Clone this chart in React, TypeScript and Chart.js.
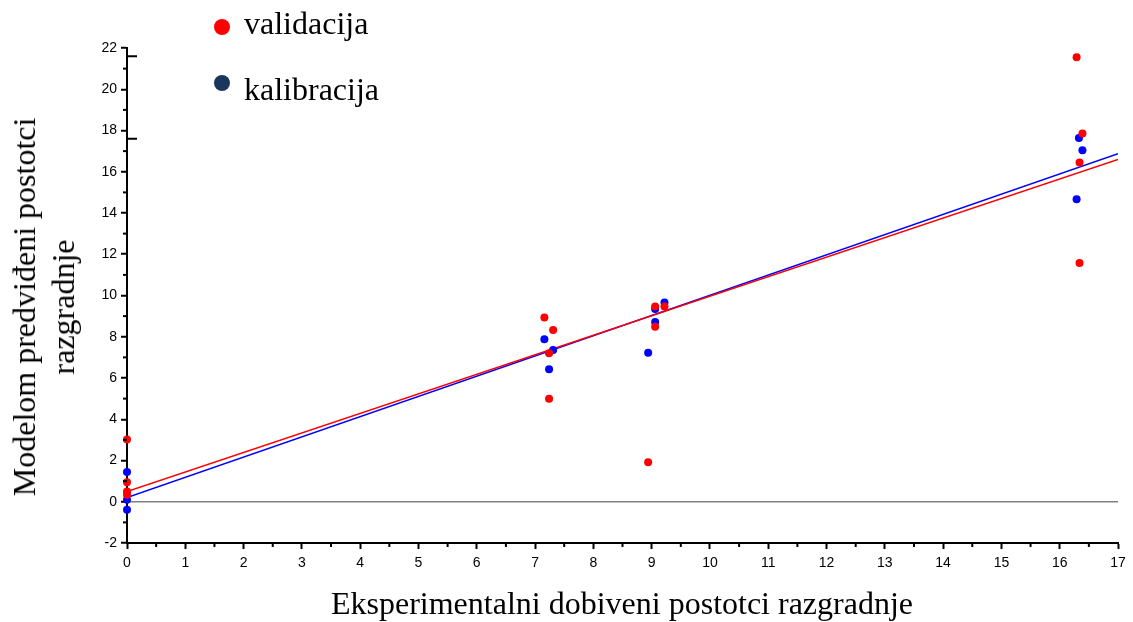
import React, { useEffect, useRef } from "react";
import { Chart, registerables } from "chart.js";

Chart.register(...registerables);

// Validacija (red) points
const valX = [0, 0, 0, 0, 7.16, 7.31, 7.24, 7.24, 9.06, 9.22, 9.06, 8.94, 16.29, 16.39, 16.34, 16.34];
const valY = [3.02, 0.94, 0.5, 0.34, 8.93, 8.33, 7.2, 5.0, 9.47, 9.47, 8.48, 1.91, 21.55, 17.85, 16.45, 11.58];

// Kalibracija (blue) points
const calX = [0, 0, 0, 7.16, 7.31, 7.24, 9.06, 9.22, 9.06, 8.94, 16.33, 16.39, 16.29];
const calY = [1.44, 0.1, -0.39, 7.88, 7.36, 6.42, 9.34, 9.66, 8.72, 7.23, 17.64, 17.04, 14.67];

// Regression lines (endpoints at x = 0 and x = 17)
const lineX = [0, 17];
const valLineY = [0.49, 16.59];
const calLineY = [0.2, 16.88];

// Axis settings
const xMin = 0;
const xMax = 17;
const yMin = -2;
const yMax = 22;
const breakValues = [21.6, 17.6];

const xTitle = "Eksperimentalni dobiveni postotci razgradnje";
const yTitleLines = ["Modelom predviđeni postotci", "razgradnje"];
const legendLabels = ["validacija", "kalibracija"];

const toPts = (xs: number[], ys: number[]) => xs.map((x, i) => ({ x, y: ys[i] }));

const extrasPlugin = {
  id: "extras",
  afterDraw(chart: any) {
    const ctx = chart.ctx;
    const xs = chart.scales.x;
    const ys = chart.scales.y;
    const area = chart.chartArea;
    ctx.save();
    ctx.strokeStyle = "#000";
    ctx.lineWidth = 2;
    // minor y ticks
    for (let v = yMin + 1; v < yMax; v += 2) {
      const py = ys.getPixelForValue(v);
      ctx.beginPath();
      ctx.moveTo(area.left - 4, py);
      ctx.lineTo(area.left, py);
      ctx.stroke();
    }
    // minor x ticks
    for (let v = xMin + 0.5; v < xMax; v += 1) {
      const px = xs.getPixelForValue(v);
      ctx.beginPath();
      ctx.moveTo(px, area.bottom);
      ctx.lineTo(px, area.bottom + 4);
      ctx.stroke();
    }
    // axis break marks
    breakValues.forEach((v) => {
      const py = ys.getPixelForValue(v);
      ctx.beginPath();
      ctx.moveTo(area.left, py);
      ctx.lineTo(area.left + 10, py);
      ctx.stroke();
    });
    ctx.restore();
  },
};

export default function App() {
  const canvasRef = useRef<HTMLCanvasElement | null>(null);

  useEffect(() => {
    if (!canvasRef.current) return;
    const tickFont = { family: "'Liberation Sans', Arial, sans-serif", size: 14 };
    const chart = new Chart(canvasRef.current, {
      type: "scatter",
      data: {
        datasets: [
          {
            label: legendLabels[0],
            data: toPts(valX, valY),
            backgroundColor: "#ff0000",
            borderColor: "#ff0000",
            pointRadius: 4,
            pointBorderWidth: 0,
            order: 0,
            clip: false as any,
          },
          {
            label: legendLabels[1],
            data: toPts(calX, calY),
            backgroundColor: "#0000ff",
            borderColor: "#0000ff",
            pointRadius: 4,
            pointBorderWidth: 0,
            order: 1,
            clip: false as any,
          },
          {
            type: "line",
            label: "val fit",
            data: toPts(lineX, valLineY),
            borderColor: "#ff0000",
            borderWidth: 1.5,
            pointRadius: 0,
            showLine: true,
            fill: false,
            order: 2,
          } as any,
          {
            type: "line",
            label: "cal fit",
            data: toPts(lineX, calLineY),
            borderColor: "#0000ff",
            borderWidth: 1.5,
            pointRadius: 0,
            showLine: true,
            fill: false,
            order: 3,
          } as any,
        ],
      },
      options: {
        animation: false,
        responsive: false,
        events: [],
        layout: { padding: { top: 48, right: 15, left: 0, bottom: 0 } },
        plugins: {
          legend: { display: false },
          tooltip: { enabled: false },
        },
        scales: {
          x: {
            type: "linear",
            min: xMin,
            max: xMax,
            ticks: { stepSize: 1, color: "#000", font: tickFont, padding: 6 },
            grid: {
              drawOnChartArea: false,
              tickLength: 6,
              tickColor: "#000",
              tickWidth: 2,
            } as any,
            border: { display: true, color: "#000", width: 2 },
            afterFit: (s: any) => {
              s.height = 79;
            },
          },
          y: {
            type: "linear",
            min: yMin,
            max: yMax,
            ticks: { stepSize: 2, color: "#000", font: tickFont, padding: 4 },
            grid: {
              drawOnChartArea: true,
              color: (c: any) => (c.tick && c.tick.value === 0 ? "#808080" : "rgba(0,0,0,0)"),
              lineWidth: 1.5,
              tickLength: 6,
              tickColor: "#000",
              tickWidth: 2,
            } as any,
            border: { display: true, color: "#000", width: 2 },
            afterFit: (s: any) => {
              s.width = 127;
            },
          },
        },
      } as any,
      plugins: [extrasPlugin],
    });
    return () => chart.destroy();
  }, []);

  const serif = "'Liberation Serif', 'Times New Roman', serif";

  return (
    <div style={{ position: "absolute", left: 0, top: 0, width: 1133, height: 622, background: "#fff" }}>
      <canvas ref={canvasRef} width={1133} height={622} style={{ position: "absolute", left: 0, top: 0, width: 1133, height: 622 }} />
      {/* Legend */}
      <div style={{ position: "absolute", left: 214, top: 19, width: 16, height: 16, borderRadius: "50%", background: "#ff0000" }} />
      <div style={{ position: "absolute", left: 244, top: 6.5, fontFamily: serif, fontSize: 32, lineHeight: "32px", whiteSpace: "nowrap", color: "#000" }}>
        {legendLabels[0]}
      </div>
      <div style={{ position: "absolute", left: 214, top: 75, width: 16, height: 16, borderRadius: "50%", background: "#1b365d" }} />
      <div style={{ position: "absolute", left: 244, top: 73, fontFamily: serif, fontSize: 32, lineHeight: "32px", whiteSpace: "nowrap", color: "#000" }}>
        {legendLabels[1]}
      </div>
      {/* X title */}
      <div style={{ position: "absolute", left: 622, top: 586.5, transform: "translateX(-50%)", fontFamily: serif, fontSize: 32, lineHeight: "32px", whiteSpace: "nowrap", color: "#000" }}>
        {xTitle}
      </div>
      {/* Y title */}
      <div
        style={{
          position: "absolute",
          left: 43.7,
          top: 307,
          transform: "translate(-50%, -50%) rotate(-90deg)",
          fontFamily: serif,
          fontSize: 32,
          lineHeight: "39px",
          whiteSpace: "nowrap",
          textAlign: "center",
          color: "#000",
        }}
      >
        {yTitleLines.map((l, i) => (
          <div key={i}>{l}</div>
        ))}
      </div>
    </div>
  );
}
